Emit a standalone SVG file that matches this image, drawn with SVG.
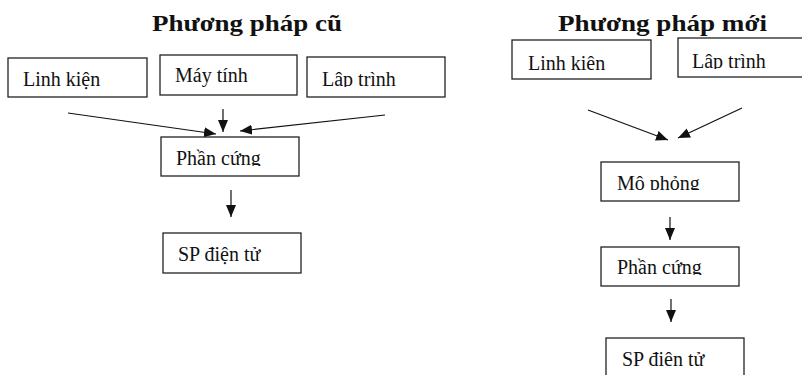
<svg xmlns="http://www.w3.org/2000/svg" width="802" height="375" viewBox="0 0 802 375">
<style>
.box{fill:#fff;stroke:#222;stroke-width:1.3}
.t{font-family:"Liberation Serif","Times New Roman",serif;font-size:20px;fill:#111}
.title{font-family:"Liberation Serif","Times New Roman",serif;font-size:24px;font-weight:bold;fill:#111}
.c{stroke:#111;stroke-width:1.2;fill:none;marker-end:url(#ah)}
</style>
<defs>
<marker id="ah" viewBox="0 0 12 10" refX="12" refY="5" markerWidth="12" markerHeight="10" markerUnits="userSpaceOnUse" orient="auto">
<path d="M0,0 L12,5 L0,10 z" fill="#111"/>
</marker>
<clipPath id="c1"><rect x="161" y="137" width="138" height="29"/></clipPath>
<clipPath id="c2"><rect x="601" y="162" width="138" height="28"/></clipPath>
<clipPath id="c3"><rect x="601" y="247" width="138" height="28"/></clipPath>
<clipPath id="c4"><rect x="678" y="38" width="130" height="31"/></clipPath>
<clipPath id="c5"><rect x="307" y="57" width="138" height="30"/></clipPath>
</defs>
<text class="title" x="152" y="31" textLength="190" lengthAdjust="spacingAndGlyphs">Phương pháp cũ</text>
<text class="title" x="558" y="31" textLength="209" lengthAdjust="spacingAndGlyphs">Phương pháp mới</text>
<g id="old-linhkien"><rect class="box" x="8" y="58" width="139" height="39"/><text class="t" x="23" y="86">Linh kiện</text></g>
<g id="old-maytinh"><rect class="box" x="160" y="55" width="137" height="40"/><text class="t" x="175" y="82">Máy tính</text></g>
<g id="old-laptrinh"><rect class="box" x="307" y="57" width="138" height="40"/><text class="t" x="322" y="86" clip-path="url(#c5)">Lâp trình</text></g>
<g id="old-phancung"><rect class="box" x="161" y="137" width="138" height="39"/><text class="t" x="176" y="165" clip-path="url(#c1)">Phần cứng</text></g>
<g id="old-sp"><rect class="box" x="163" y="233" width="138" height="40"/><text class="t" x="178" y="261">SP điện tử</text></g>
<g id="new-linhkien"><rect class="box" x="512" y="40" width="139" height="39"/><text class="t" x="528" y="70">Linh kiên</text></g>
<g id="new-laptrinh"><rect class="box" x="678" y="38" width="130" height="39"/><text class="t" x="692" y="68" clip-path="url(#c4)">Lâp trình</text></g>
<g id="new-mophong"><rect class="box" x="601" y="162" width="138" height="39"/><text class="t" x="617" y="190" clip-path="url(#c2)">Mô phỏng</text></g>
<g id="new-phancung"><rect class="box" x="601" y="247" width="138" height="39"/><text class="t" x="617" y="274" clip-path="url(#c3)">Phần cứng</text></g>
<g id="new-sp"><rect class="box" x="606" y="338" width="138" height="45"/><text class="t" x="622" y="366">SP điên tử</text></g>
<g id="connectors">
<line class="c" x1="68" y1="113" x2="216" y2="134"/>
<line class="c" x1="223" y1="109" x2="223" y2="132"/>
<line class="c" x1="385" y1="115" x2="240" y2="131"/>
<line class="c" x1="231" y1="190" x2="231" y2="217"/>
<line class="c" x1="588" y1="110" x2="668" y2="140"/>
<line class="c" x1="742" y1="108" x2="678" y2="138"/>
<line class="c" x1="670" y1="217" x2="670" y2="240"/>
<line class="c" x1="671" y1="299" x2="671" y2="322"/>
</g>
</svg>
